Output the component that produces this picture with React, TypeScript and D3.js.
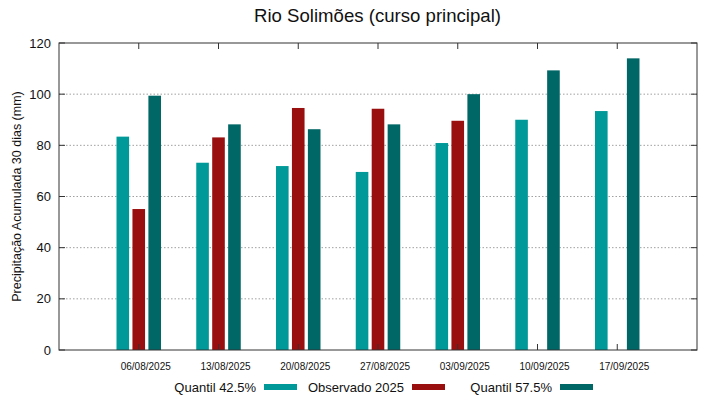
import * as d3 from "d3"
import { useEffect, useRef } from "react"

// datas das semanas
const dates = ["06/08/2025", "13/08/2025", "20/08/2025", "27/08/2025", "03/09/2025", "10/09/2025", "17/09/2025"]
const q425 = [83.4, 73.2, 71.9, 69.6, 80.9, 90.0, 93.4]
const obs2025: (number | null)[] = [55.1, 83.1, 94.6, 94.3, 89.6, null, null]
const q575 = [99.4, 88.2, 86.3, 88.2, 100.0, 109.3, 114.0]
const yTicks = [0, 20, 40, 60, 80, 100, 120]

const seriesNames = ["Quantil 42.5%", "Observado 2025", "Quantil 57.5%"]
const colors = ["#009999", "#990f0f", "#006666"]

export default function App() {
  const ref = useRef<SVGSVGElement>(null)

  useEffect(() => {
    const svg = d3.select(ref.current)
    svg.selectAll("*").remove()

    const margin = { top: 43, right: 22, bottom: 49, left: 59 }
    const W = 719, H = 399
    const width = W - margin.left - margin.right
    const height = H - margin.top - margin.bottom
    const font = "Liberation Sans, Arial, sans-serif"

    const x = d3.scalePoint<string>().domain(dates).range([0, width]).padding(1)
    const y = d3.scaleLinear().domain([0, 120]).range([height, 0])
    const step = x.step()
    const barW = step * 0.158
    const pitch = step * 0.2

    const g = svg.append("g").attr("transform", `translate(${margin.left},${margin.top})`)

    // grid
    g.selectAll(".grid").data(yTicks.filter(t => t > 0 && t < 120)).enter().append("line")
      .attr("x1", 0).attr("x2", width)
      .attr("y1", d => y(d)).attr("y2", d => y(d))
      .attr("stroke", "#a0a0a0").attr("stroke-width", 1).attr("stroke-dasharray", "1.5,2")

    // bars
    const all = [q425, obs2025, q575]
    all.forEach((vals, si) => {
      g.selectAll(".bar" + si).data(dates.map((d, i) => ({ d, v: vals[i] })).filter(e => e.v != null))
        .enter().append("rect")
        .attr("x", e => (x(e.d) as number) + (si - 1) * pitch - barW / 2)
        .attr("width", barW)
        .attr("y", e => y(e.v as number))
        .attr("height", e => height - y(e.v as number))
        .attr("fill", colors[si])
    })

    // frame
    g.append("rect").attr("x", 0).attr("y", 0).attr("width", width).attr("height", height)
      .attr("fill", "none").attr("stroke", "#333").attr("stroke-width", 1)

    // y ticks (both sides)
    yTicks.forEach(t => {
      g.append("line").attr("x1", 0).attr("x2", 6).attr("y1", y(t)).attr("y2", y(t)).attr("stroke", "#333")
      g.append("line").attr("x1", width - 6).attr("x2", width).attr("y1", y(t)).attr("y2", y(t)).attr("stroke", "#333")
      g.append("text").attr("x", -8).attr("y", y(t)).attr("dy", "0.35em")
        .attr("text-anchor", "end").attr("font-family", font).attr("font-size", 13).attr("fill", "#111")
        .text(t)
    })

    // x ticks
    dates.forEach(d => {
      const cx = x(d) as number
      g.append("line").attr("x1", cx).attr("x2", cx).attr("y1", height).attr("y2", height - 6).attr("stroke", "#333")
      g.append("line").attr("x1", cx).attr("x2", cx).attr("y1", 0).attr("y2", 6).attr("stroke", "#333")
      g.append("text").attr("x", cx + 7).attr("y", height + 20)
        .attr("text-anchor", "middle").attr("font-family", font).attr("font-size", 10).attr("fill", "#111")
        .text(d)
    })

    // y label
    svg.append("text").attr("transform", `translate(21,${margin.top + height / 2}) rotate(-90)`)
      .attr("text-anchor", "middle").attr("font-family", font).attr("font-size", 12.5).attr("fill", "#111")
      .text("Precipitação Acumulada 30 dias (mm)")

    // title
    svg.append("text").attr("x", 377.5).attr("y", 22).attr("text-anchor", "middle")
      .attr("font-family", font).attr("font-size", 18.6).attr("fill", "#111")
      .text("Rio Solimões (curso principal)")

    // legend
    seriesNames.forEach((n, i) => {
      const ex = 256 + i * 148
      svg.append("text").attr("x", ex).attr("y", 392).attr("text-anchor", "end")
        .attr("font-family", font).attr("font-size", 13).attr("fill", "#111").text(n)
      svg.append("rect").attr("x", ex + 8).attr("y", 384).attr("width", 33).attr("height", 6).attr("fill", colors[i])
    })
  }, [])

  return <svg ref={ref} width={719} height={399} style={{ position: "absolute", left: 0, top: 0, background: "#fff" }} />
}
